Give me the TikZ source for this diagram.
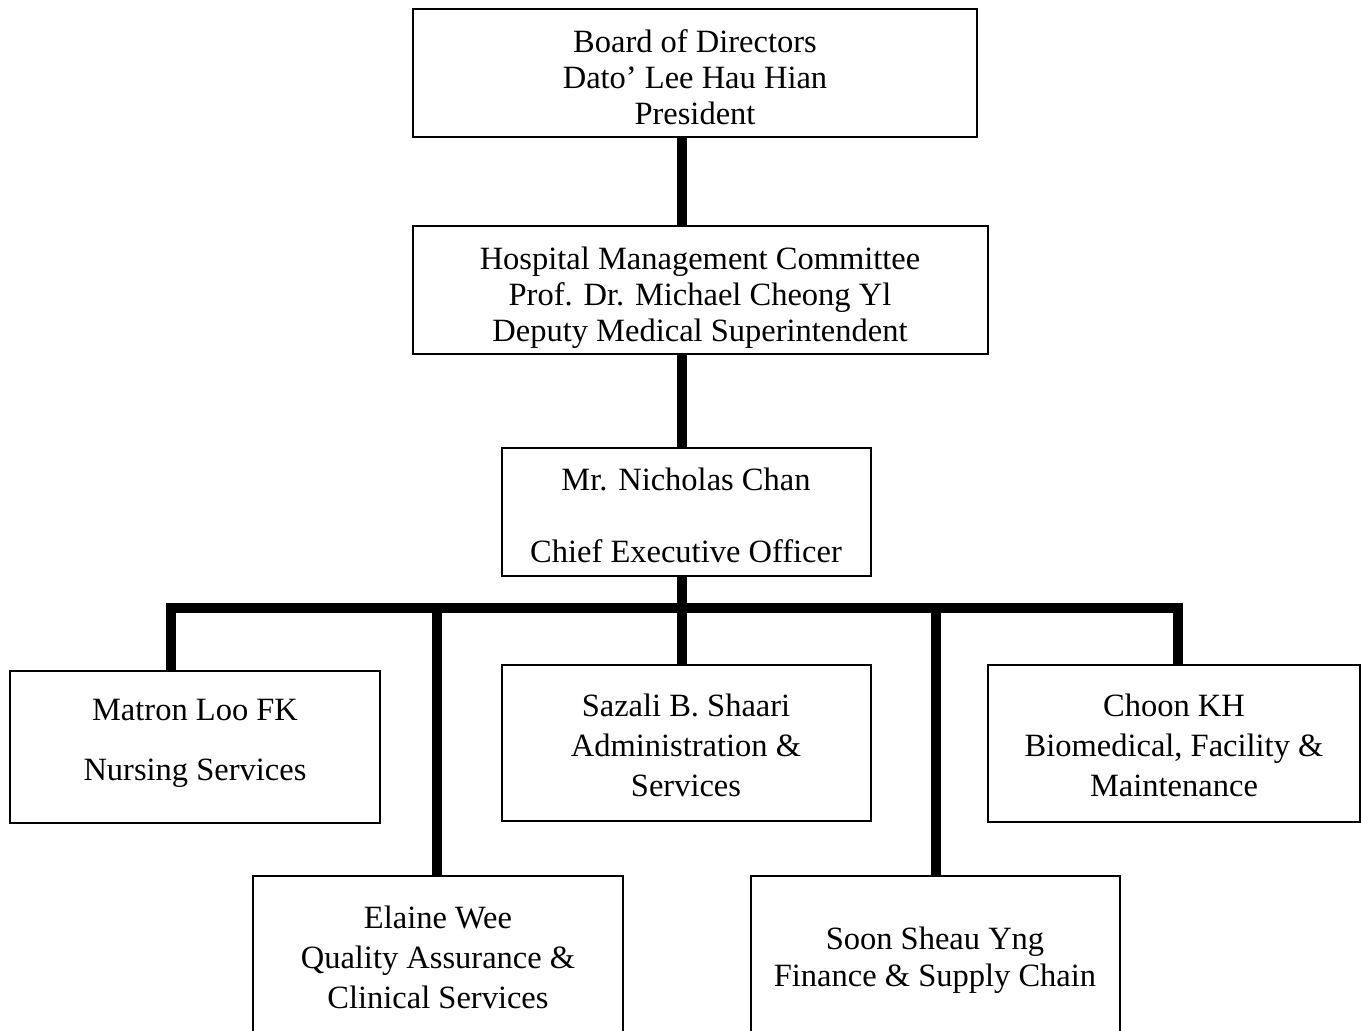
\documentclass[tikz,border=0pt]{standalone}
\usepackage{fontspec}
\setmainfont{Liberation Serif}
\begin{document}
\begin{tikzpicture}[x=1pt,y=-1pt,
  box/.style={draw=black,line width=2pt,fill=white,inner sep=0pt},
  txt/.style={align=center,inner sep=0pt,font=\fontsize{32.5}{36}\selectfont},
  txtb/.style={align=center,inner sep=0pt,font=\fontsize{32.5}{40}\selectfont},
  conn/.style={line width=10pt,line join=miter,line cap=butt}]
\useasboundingbox (0,0) rectangle (1361,1031);
\clip (0,0) rectangle (1361,1031);
\fill[white] (0,0) rectangle (1361,1031);
% connector coordinates
\coordinate (trunk) at (682,0);
\coordinate (bar) at (0,608);
\coordinate (xm) at (171,0);
\coordinate (xe) at (437,0);
\coordinate (xs) at (936,0);
\coordinate (xc) at (1178,0);
% boxes
\node[box,minimum width=564,minimum height=128] (board) at (695,73) {};
\node[box,minimum width=575,minimum height=128] (hmc) at (700.5,290) {};
\node[box,minimum width=369,minimum height=128] (ceo) at (686.5,512) {};
\node[box,minimum width=370,minimum height=152] (matron) at (195,747) {};
\node[box,minimum width=369,minimum height=156] (sazali) at (686.5,743) {};
\node[box,minimum width=372,minimum height=157] (choon) at (1174,743.5) {};
\node[box,minimum width=370,minimum height=164] (elaine) at (438,958) {};
\node[box,minimum width=369,minimum height=164] (soon) at (935.5,958) {};
% connectors
\draw[conn] (board.south -| trunk) -- (hmc.north -| trunk);
\draw[conn] (hmc.south -| trunk) -- (ceo.north -| trunk);
\draw[conn] (ceo.south -| trunk) -- (bar -| trunk);
\draw[conn] (matron.north -| xm) -- (bar -| xm) -- (bar -| xc) -- (choon.north -| xc);
\draw[conn] (bar -| trunk) -- (sazali.north -| trunk);
\draw[conn] (bar -| xe) -- (elaine.north -| xe);
\draw[conn] (bar -| xs) -- (soon.north -| xs);
% texts
\node[txt] (boardT) at (695,77) {Board of Directors\\Dato' Lee Hau Hian\\President};
\node[txt] (hmcT) at (700,298) {Hospital Management Committee\\Prof. Dr. Michael Cheong Yl\\Deputy Medical Superintendent};
\node[txt] (ceoT) at (686,515) {Mr. Nicholas Chan\\ \\Chief Executive Officer};
\node[txt] (matronT) at (195,743) {Matron Loo FK\\[24pt]Nursing Services};
\node[txtb] (sazaliT) at (686,745) {Sazali B. Shaari\\Administration \&\\Services};
\node[txtb] (choonT) at (1174,745) {Choon KH\\Biomedical, Facility \&\\Maintenance};
\node[txtb] (elaineT) at (438,957) {Elaine Wee\\Quality Assurance \&\\Clinical Services};
\node[align=center,inner sep=0pt,font=\fontsize{32.5}{37}\selectfont] (soonT) at (935,960) {Soon Sheau Yng\\Finance \& Supply Chain};
\end{tikzpicture}
\end{document}
